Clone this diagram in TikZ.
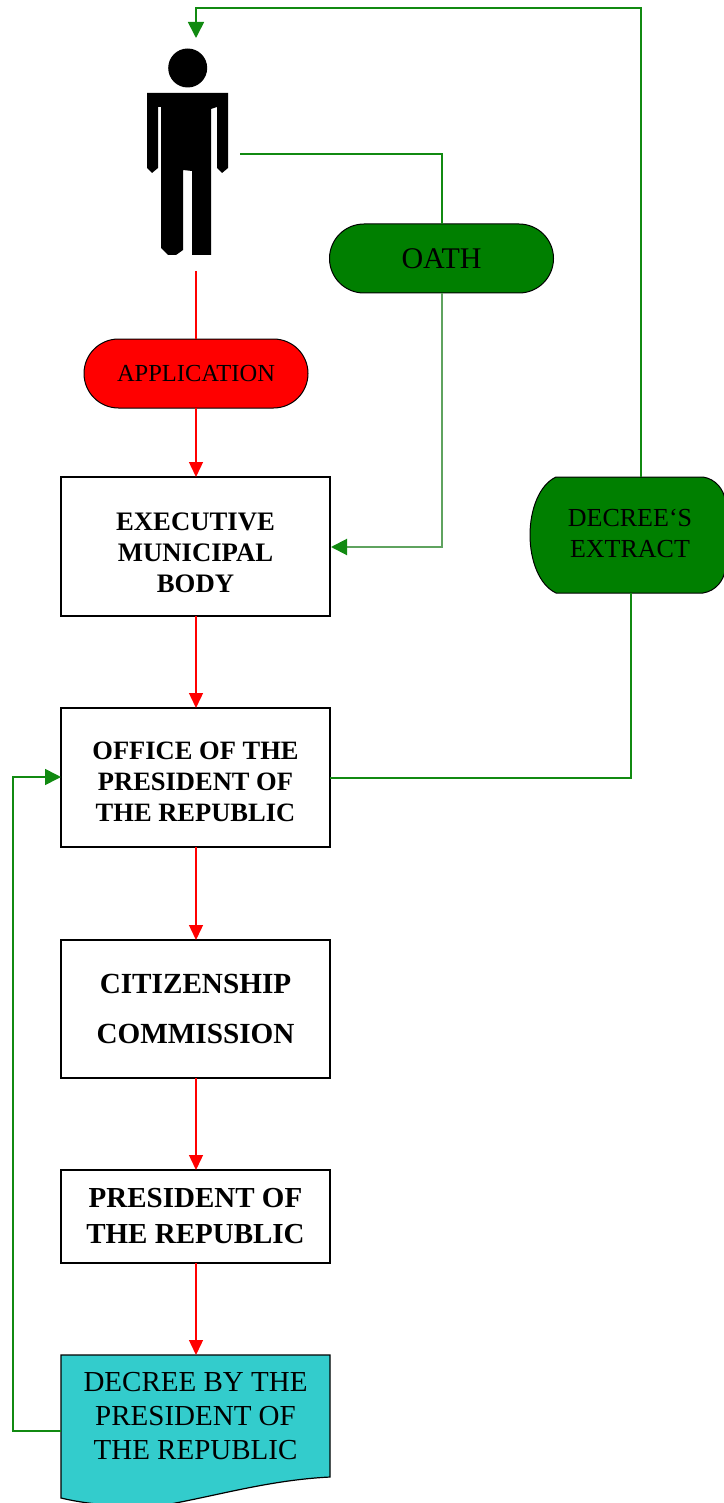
\documentclass[tikz,border=0pt]{standalone}
\usepackage{fontspec}
\setmainfont{Liberation Serif}
\usetikzlibrary{arrows.meta,shapes.misc,calc}
\definecolor{dgreen}{HTML}{007F00}
\definecolor{lineg}{HTML}{118A11}
\definecolor{softg}{HTML}{5FA35F}
\definecolor{teal1}{HTML}{33CCCC}
\tikzset{
  x=1pt,y=-1pt,
  procbox/.style={draw=black,line width=1.2pt,fill=white,minimum width=269pt,inner sep=0pt,outer sep=0pt,align=center,font=\fontsize{26.7}{31}\selectfont\bfseries},
  pill/.style={rounded rectangle,draw=black,line width=1pt,minimum width=224pt,minimum height=69pt,inner sep=0pt,outer sep=0pt,font=\fontsize{24.5}{29}\selectfont},
  redflow/.style={draw=red,line width=1.4pt,-{Triangle[width=14pt,length=15pt]}},
  redline/.style={draw=red,line width=1.4pt},
  greenflow/.style={draw=lineg,line width=1.6pt,-{Triangle[width=16pt,length=16pt]}},
  greenline/.style={draw=lineg,line width=1.6pt},
  softflow/.style={draw=softg,line width=2pt,-{Triangle[width=16pt,length=16pt,color=lineg]}},
}
\begin{document}
\begin{tikzpicture}
\useasboundingbox (0,0) rectangle (723,1503);
% person figure
\fill[black] (187.7,68) circle (19.5);
\fill[black] (147,93)--(228,93)--(228,168)--(222,173)--(217,168)--(217,107)--(211,109)--(211,255)--(192,255)--(192,171)--(183,170)--(183,250)--(176,255)--(168,255)--(161,248)--(161,107)--(158,107)--(158,168)--(152,173)--(147,168)--cycle;
\node[inner sep=0pt,outer sep=0pt,minimum width=81pt,minimum height=207pt] (person) at (187.5,151.5) {};
\coordinate (personOut) at (240,154);
\coordinate (personIn) at (196,38);
\coordinate (personDown) at (196,271);
% pills
\node[pill,fill=dgreen,font=\fontsize{30}{34}\selectfont] (oath) at (441.5,258.5) {\raisebox{-1pt}{OATH}};
\node[pill,fill=red] (application) at (196,373.5) {APPLICATION};
% process boxes
\node[procbox,minimum height=139pt] (exec) at (195.5,546.5) {\rule{0pt}{30pt}EXECUTIVE\\MUNICIPAL\\BODY};
\node[procbox,minimum height=139pt,font=\fontsize{26.5}{31}\selectfont\bfseries] (office) at (195.5,777.5) {\rule{0pt}{26pt}OFFICE OF THE\\PRESIDENT OF\\THE REPUBLIC};
\node[procbox,minimum height=138pt,font=\fontsize{29.2}{50}\selectfont\bfseries] (citizen) at (195.5,1009) {CITIZENSHIP\\COMMISSION};
\node[procbox,minimum height=93pt,font=\fontsize{29}{36}\selectfont\bfseries] (president) at (195.5,1216.5) {PRESIDENT OF\\THE REPUBLIC};
% decree's extract
\path[draw=black,line width=1pt,fill=dgreen] (556,477)--(703,477) .. controls (716,479) and (724,490) .. (725,500) -- (725,570) .. controls (724,580) and (716,591) .. (703,593) -- (556,593) .. controls (539,585) and (530,560) .. (530,535) .. controls (530,510) and (539,485) .. (556,477) -- cycle;
\node[inner sep=0pt,outer sep=0pt,minimum width=187pt,minimum height=116pt,align=center,font=\fontsize{26}{31}\selectfont] (extract) at (630,535) {DECREE‘S\\EXTRACT\rule[-4pt]{0pt}{0pt}};
% decree document
\path[draw=black,line width=1.2pt,fill=teal1] (61,1355)--(330,1355)--(330,1477) .. controls (270,1480) and (220,1495) .. (165,1505) .. controls (130,1508) and (90,1505) .. (61,1498) -- cycle;
\node[inner sep=0pt,outer sep=0pt,minimum width=269pt,minimum height=95pt,align=center,font=\fontsize{29}{34}\selectfont] (decree) at (195.5,1416) {DECREE BY THE\\PRESIDENT OF\\THE REPUBLIC};
\coordinate (decreeEdge) at (61,1431);
% route helpers
\coordinate (rtop) at (641,8);
\coordinate (oathx) at (442,154);
\coordinate (execIn) at (331,547);
\coordinate (leftx) at (13,777);
\coordinate (extractx) at (631,778);
% connectors
\draw[greenflow] (extract.north -| rtop) -- (rtop) -| (personIn);
\draw[greenline] (personOut) -- (oathx) -- (oathx |- oath.north);
\draw[softflow] (oathx |- oath.south) |- (execIn);
\draw[redline] (personDown) -- (personDown |- application.north);
\draw[redflow] (personDown |- application.south) -- (personDown |- exec.north);
\draw[redflow] (personDown |- exec.south) -- (personDown |- office.north);
\draw[redflow] (personDown |- office.south) -- (personDown |- citizen.north);
\draw[redflow] (personDown |- citizen.south) -- (personDown |- president.north);
\draw[redflow] (personDown |- president.south) -- (196,1355);
\draw[greenflow] (decreeEdge) -| (leftx) -- (office.west |- leftx);
\draw[greenline] (office.east |- extractx) -- (extractx) -- (extractx |- extract.south);
\end{tikzpicture}
\end{document}
